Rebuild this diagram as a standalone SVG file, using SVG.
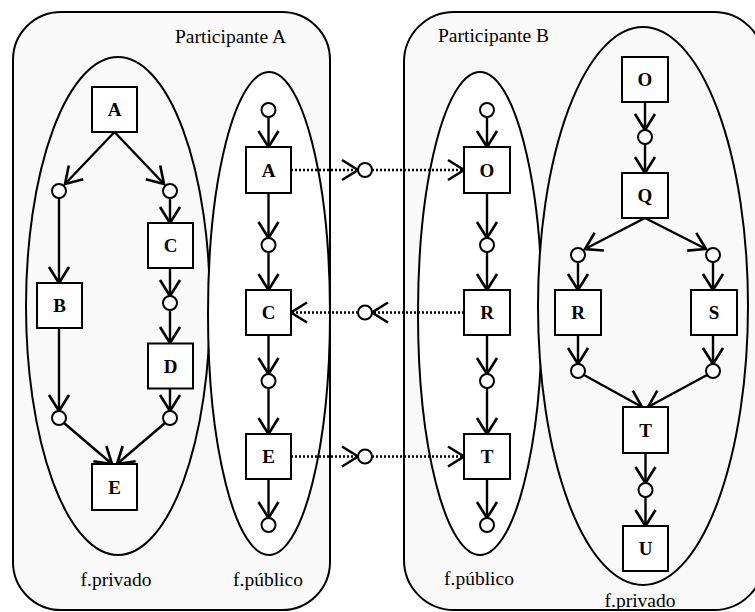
<svg xmlns="http://www.w3.org/2000/svg" width="755" height="612" viewBox="0 0 755 612">
  <style>
    .part { fill: #f9f9f9; stroke: #000; stroke-width: 2; }
    .priv { fill: #f9f9f9; stroke: #000; stroke-width: 2; }
    .pub { fill: #ffffff; stroke: #000; stroke-width: 2; }
    .box { fill: #ffffff; stroke: #000; stroke-width: 2; }
    .pt { fill: #ffffff; stroke: #000; stroke-width: 2; }
    .lbl { font-family: "Liberation Serif", "Times New Roman", serif; font-weight: bold; font-size: 19px; text-anchor: middle; fill: #000; }
    .cap { font-family: "Liberation Serif", "Times New Roman", serif; font-size: 19.5px; fill: #000; }
    .ctr { text-anchor: middle; }
    .flow { stroke: #000; stroke-width: 2.4; fill: none; marker-end: url(#arr); }
    .msg { stroke: #000; stroke-width: 2.4; fill: none; stroke-dasharray: 2 2; marker-end: url(#arr); }
  </style>
  <defs>
    <marker id="arr" markerUnits="userSpaceOnUse" viewBox="-20 -13 24 26" markerWidth="24" markerHeight="26" refX="0" refY="0" orient="auto">
      <path d="M-16,-10 L0,0 L-16,10" fill="none" stroke="#000" stroke-width="2.6" stroke-linejoin="miter"/>
    </marker>
  </defs>

  <!-- participant A -->
  <g id="participanteA">
    <rect class="part" x="13" y="12" width="317" height="598" rx="48" ry="48"/>
    <text class="cap" x="175" y="43">Participante A</text>
  </g>
  <!-- participant B (extends past the right edge) -->
  <g id="participanteB">
    <rect class="part" x="404" y="12" width="360" height="598" rx="50" ry="50"/>
    <text class="cap" x="438" y="42">Participante B</text>
  </g>

  <!-- fragments -->
  <g id="fprivadoA">
    <ellipse class="priv" cx="118" cy="306" rx="92" ry="249"/>
    <text class="cap ctr" x="116" y="586">f.privado</text>
  </g>
  <g id="fpublicoA">
    <ellipse class="pub" cx="269" cy="313.5" rx="61" ry="241.5"/>
    <text class="cap ctr" x="268" y="586">f.público</text>
  </g>
  <g id="fpublicoB">
    <ellipse class="pub" cx="480" cy="313.5" rx="62" ry="241.5"/>
    <text class="cap ctr" x="479" y="585">f.público</text>
  </g>
  <g id="fprivadoB">
    <ellipse class="priv" cx="643" cy="306" rx="105" ry="279"/>
    <text class="cap ctr" x="640" y="607">f.privado</text>
  </g>

  <!-- connectors -->
  <g id="connectors">
    <!-- A private -->
    <line class="flow" x1="114.5" y1="132" x2="65" y2="184"/>
    <line class="flow" x1="114.5" y1="132" x2="164" y2="184"/>
    <line class="flow" x1="59" y1="198" x2="59" y2="283"/>
    <line class="flow" x1="170" y1="198" x2="170" y2="223"/>
    <line class="flow" x1="170" y1="268" x2="170" y2="296"/>
    <line class="flow" x1="170" y1="310" x2="170" y2="343"/>
    <line class="flow" x1="170" y1="389" x2="170" y2="411"/>
    <line class="flow" x1="59" y1="328" x2="59" y2="411"/>
    <line class="flow" x1="64" y1="423" x2="112" y2="464"/>
    <line class="flow" x1="165" y1="423" x2="117" y2="464"/>
    <!-- A public -->
    <line class="flow" x1="268.5" y1="117" x2="268.5" y2="147"/>
    <line class="flow" x1="268.5" y1="193" x2="268.5" y2="238"/>
    <line class="flow" x1="268.5" y1="252" x2="268.5" y2="290"/>
    <line class="flow" x1="268.5" y1="335" x2="268.5" y2="374"/>
    <line class="flow" x1="268.5" y1="388" x2="268.5" y2="434"/>
    <line class="flow" x1="268.5" y1="479" x2="268.5" y2="518"/>
    <!-- messages between public fragments -->
    <line class="msg" x1="291" y1="170" x2="358" y2="170"/>
    <line class="msg" x1="372" y1="170" x2="464" y2="170"/>
    <line class="msg" x1="464" y1="312.5" x2="372" y2="312.5"/>
    <line class="msg" x1="358" y1="312.5" x2="291" y2="312.5"/>
    <line class="msg" x1="291" y1="456.5" x2="358" y2="456.5"/>
    <line class="msg" x1="372" y1="456.5" x2="464" y2="456.5"/>
    <!-- B public -->
    <line class="flow" x1="487" y1="117" x2="487" y2="147"/>
    <line class="flow" x1="487" y1="193" x2="487" y2="238"/>
    <line class="flow" x1="487" y1="252" x2="487" y2="290"/>
    <line class="flow" x1="487" y1="335" x2="487" y2="374"/>
    <line class="flow" x1="487" y1="388" x2="487" y2="434"/>
    <line class="flow" x1="487" y1="479" x2="487" y2="518"/>
    <!-- B private -->
    <line class="flow" x1="645" y1="102" x2="645" y2="130"/>
    <line class="flow" x1="645" y1="144" x2="645" y2="173"/>
    <line class="flow" x1="645" y1="218" x2="585" y2="249"/>
    <line class="flow" x1="645" y1="218" x2="706" y2="249"/>
    <line class="flow" x1="578" y1="262" x2="578" y2="290"/>
    <line class="flow" x1="713" y1="262" x2="713" y2="290"/>
    <line class="flow" x1="578" y1="335" x2="578" y2="364"/>
    <line class="flow" x1="713" y1="335" x2="713" y2="364"/>
    <line class="flow" x1="584" y1="375" x2="642" y2="407"/>
    <line class="flow" x1="707" y1="375" x2="648" y2="407"/>
    <line class="flow" x1="645.5" y1="453" x2="645.5" y2="483"/>
    <line class="flow" x1="645.5" y1="497" x2="645.5" y2="526"/>
  </g>

  <!-- places (circles) -->
  <g id="places">
    <circle class="pt" cx="59" cy="191" r="7"/>
    <circle class="pt" cx="170" cy="191" r="7"/>
    <circle class="pt" cx="170" cy="303" r="7"/>
    <circle class="pt" cx="59" cy="418" r="7"/>
    <circle class="pt" cx="170" cy="418" r="7"/>
    <circle class="pt" cx="268.5" cy="110" r="7"/>
    <circle class="pt" cx="268.5" cy="245" r="7"/>
    <circle class="pt" cx="268.5" cy="381" r="7"/>
    <circle class="pt" cx="268.5" cy="525" r="7"/>
    <circle class="pt" cx="365" cy="170" r="7"/>
    <circle class="pt" cx="365" cy="312.5" r="7"/>
    <circle class="pt" cx="365" cy="456.5" r="7"/>
    <circle class="pt" cx="487" cy="110" r="7"/>
    <circle class="pt" cx="487" cy="245" r="7"/>
    <circle class="pt" cx="487" cy="381" r="7"/>
    <circle class="pt" cx="487" cy="525" r="7"/>
    <circle class="pt" cx="645" cy="137" r="7"/>
    <circle class="pt" cx="578" cy="255" r="7"/>
    <circle class="pt" cx="713" cy="255" r="7"/>
    <circle class="pt" cx="578" cy="371" r="7"/>
    <circle class="pt" cx="713" cy="371" r="7"/>
    <circle class="pt" cx="645.5" cy="490" r="7"/>
  </g>

  <!-- A private tasks -->
  <g id="privA-A"><rect class="box" x="92" y="87" width="45" height="45"/><text class="lbl" x="114.5" y="116">A</text></g>
  <g id="privA-B"><rect class="box" x="37" y="283" width="45" height="45"/><text class="lbl" x="59.5" y="312">B</text></g>
  <g id="privA-C"><rect class="box" x="148" y="223" width="45" height="45"/><text class="lbl" x="170.5" y="252">C</text></g>
  <g id="privA-D"><rect class="box" x="148" y="343.5" width="45" height="45"/><text class="lbl" x="170.5" y="372.5">D</text></g>
  <g id="privA-E"><rect class="box" x="92" y="464" width="45" height="46"/><text class="lbl" x="114.5" y="493.5">E</text></g>

  <!-- A public tasks -->
  <g id="pubA-A"><rect class="box" x="246" y="147" width="45" height="46"/><text class="lbl" x="268.5" y="176.5">A</text></g>
  <g id="pubA-C"><rect class="box" x="246" y="290" width="45" height="45"/><text class="lbl" x="268.5" y="319">C</text></g>
  <g id="pubA-E"><rect class="box" x="246" y="434" width="45" height="45"/><text class="lbl" x="268.5" y="463">E</text></g>

  <!-- B public tasks -->
  <g id="pubB-O"><rect class="box" x="464" y="147" width="46" height="46"/><text class="lbl" x="487" y="176.5">O</text></g>
  <g id="pubB-R"><rect class="box" x="464" y="290" width="46" height="45"/><text class="lbl" x="487" y="319">R</text></g>
  <g id="pubB-T"><rect class="box" x="464" y="434" width="46" height="45"/><text class="lbl" x="487" y="463">T</text></g>

  <!-- B private tasks -->
  <g id="privB-O"><rect class="box" x="622" y="57" width="46" height="45"/><text class="lbl" x="645" y="86">O</text></g>
  <g id="privB-Q"><rect class="box" x="622" y="173" width="46" height="45"/><text class="lbl" x="645" y="202">Q</text></g>
  <g id="privB-R"><rect class="box" x="555" y="290" width="46" height="45"/><text class="lbl" x="578" y="319">R</text></g>
  <g id="privB-S"><rect class="box" x="691" y="290" width="46" height="45"/><text class="lbl" x="714" y="319">S</text></g>
  <g id="privB-T"><rect class="box" x="623" y="407" width="45" height="46"/><text class="lbl" x="645.5" y="436.5">T</text></g>
  <g id="privB-U"><rect class="box" x="623" y="526" width="45" height="45"/><text class="lbl" x="645.5" y="555">U</text></g>
</svg>
